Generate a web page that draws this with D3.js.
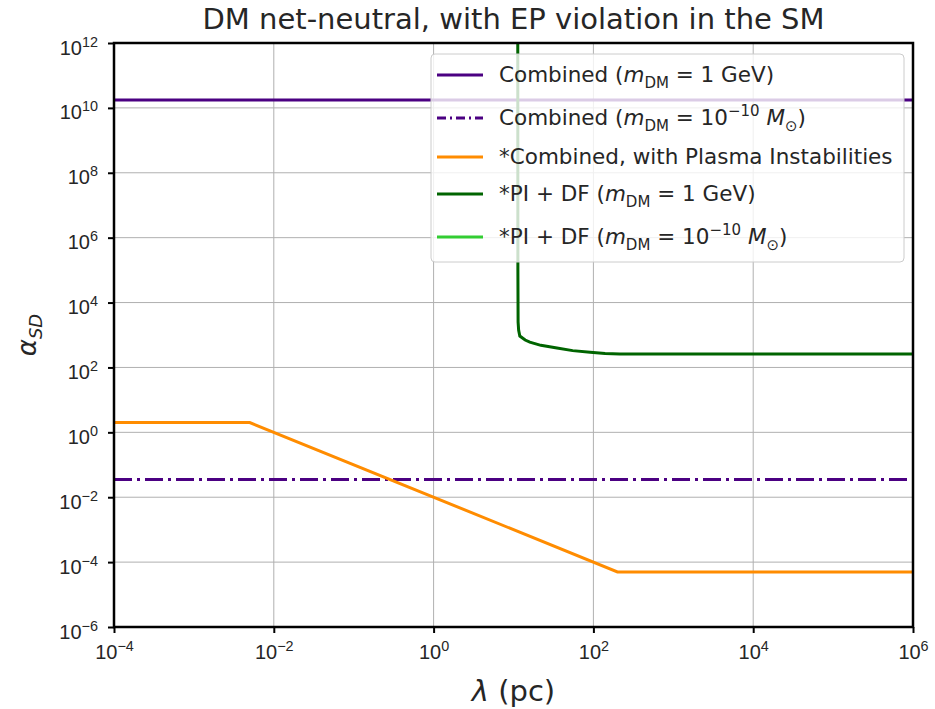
<!DOCTYPE html>
<html>
<head>
<meta charset="utf-8">
<script src="https://cdn.jsdelivr.net/npm/d3@7"></script>
<style>
  body { margin: 0; background: #fff; }
  svg { font-family: "DejaVu Sans", sans-serif; }
</style>
</head>
<body>
<div id="chart"></div>
<script>
//Datos
const xTicks = [1e-4, 1e-2, 1e0, 1e2, 1e4, 1e6];
const yTicks = [1e-6, 1e-4, 1e-2, 1e0, 1e2, 1e4, 1e6, 1e8, 1e10, 1e12];

const lambdaCombined = [1e-4, 1e6];
const alphaCombinedGeV = [1.75e10, 1.75e10];
const alphaCombinedMsun = [0.035, 0.035];

const lambdaPlasma = [1e-4, 5e-3, 200, 1e6];
const alphaPlasma = [2, 2, 5e-5, 5e-5];

const lambdaPIDF = [11.3, 11.35, 11.42, 11.6, 12, 14, 16, 22, 35, 55, 91, 140, 214, 1e6];
const alphaPIDF = [1e14, 1e5, 2500, 1400, 930, 700, 600, 480, 400, 330, 295, 270, 260, 260];

//Colores
const COLOR_INDIGO = '#4B0082',
COLOR_ORANGE = '#FF8C00',
COLOR_DKGREEN = '#006400',
COLOR_LIME = '#32CD32';

const W = 935, H = 709;
const margin = {top: 43, right: 22, bottom: 82, left: 114};

let svg = d3.select('#chart').append('svg')
    .attr('width', W)
    .attr('height', H);

let x = d3.scaleLog().domain([1e-4, 1e6]).range([margin.left, W - margin.right]);
let y = d3.scaleLog().domain([1e-6, 1e12]).range([H - margin.bottom, margin.top]);

//Rejilla
svg.append('g')
    .selectAll('line')
    .data(xTicks)
    .enter().append('line')
    .attr('x1', d => x(d)).attr('x2', d => x(d))
    .attr('y1', margin.top).attr('y2', H - margin.bottom)
    .attr('stroke', '#b0b0b0').attr('stroke-width', 1);

svg.append('g')
    .selectAll('line')
    .data(yTicks)
    .enter().append('line')
    .attr('y1', d => y(d)).attr('y2', d => y(d))
    .attr('x1', margin.left).attr('x2', W - margin.right)
    .attr('stroke', '#b0b0b0').attr('stroke-width', 1);

//Clip
svg.append('clipPath').attr('id', 'clip')
    .append('rect')
    .attr('x', margin.left).attr('y', margin.top)
    .attr('width', W - margin.left - margin.right)
    .attr('height', H - margin.top - margin.bottom);

let line = d3.line().x(d => x(d[0])).y(d => y(d[1]));
let plot = svg.append('g').attr('clip-path', 'url(#clip)');

function addSeries(xs, ys, color, dash) {
    plot.append('path')
        .datum(xs.map((v, i) => [v, ys[i]]))
        .attr('fill', 'none')
        .attr('stroke', color)
        .attr('stroke-width', 3)
        .attr('stroke-dasharray', dash || null)
        .attr('d', line);
}

addSeries(lambdaCombined, alphaCombinedGeV, COLOR_INDIGO);
addSeries(lambdaCombined, alphaCombinedMsun, COLOR_INDIGO, '18,5,3,5');
addSeries(lambdaPlasma, alphaPlasma, COLOR_ORANGE);
addSeries(lambdaPIDF, alphaPIDF, COLOR_DKGREEN);

//Ejes
function powLabel(sel, d) {
    let e = Math.round(Math.log10(d));
    sel.text(null);
    sel.append('tspan').text('10');
    sel.append('tspan').attr('dy', '-0.55em').attr('font-size', '0.72em').text(e < 0 ? '\u2212' + (-e) : e);
}

let xAxis = svg.append('g')
    .attr('transform', 'translate(0,' + (H - margin.bottom) + ')')
    .call(d3.axisBottom(x).tickValues(xTicks).tickSize(6).tickPadding(12));
xAxis.selectAll('.tick text').attr('font-size', 20).attr('fill', '#262626').each(function(d) { powLabel(d3.select(this), d); });

let yAxis = svg.append('g')
    .attr('transform', 'translate(' + margin.left + ',0)')
    .call(d3.axisLeft(y).tickValues(yTicks).tickSize(6).tickPadding(10));
yAxis.selectAll('.tick text').attr('font-size', 20).attr('fill', '#262626').attr('dy', '0.55em').each(function(d) { powLabel(d3.select(this), d); });

svg.selectAll('.domain').remove();
svg.selectAll('.tick line').attr('stroke', '#000').attr('stroke-width', 2);

//Marco
svg.append('rect')
    .attr('x', margin.left).attr('y', margin.top)
    .attr('width', W - margin.left - margin.right)
    .attr('height', H - margin.top - margin.bottom)
    .attr('fill', 'none').attr('stroke', '#000').attr('stroke-width', 2.5);

//Títulos
svg.append('text')
    .attr('x', (margin.left + W - margin.right) / 2).attr('y', 29)
    .attr('text-anchor', 'middle').attr('font-size', 29).attr('fill', '#262626')
    .text('DM net-neutral, with EP violation in the SM');

let xl = svg.append('text')
    .attr('x', (margin.left + W - margin.right) / 2).attr('y', 701)
    .attr('text-anchor', 'middle').attr('font-size', 29).attr('fill', '#262626');
xl.append('tspan').attr('font-style', 'italic').text('λ');
xl.append('tspan').text(' (pc)');

let yl = svg.append('text')
    .attr('transform', 'translate(36,' + ((margin.top + H - margin.bottom) / 2) + ') rotate(-90)')
    .attr('text-anchor', 'middle').attr('font-size', 26).attr('fill', '#262626');
yl.append('tspan').attr('font-style', 'italic').text('α');
yl.append('tspan').attr('font-style', 'italic').attr('font-size', 18).attr('dy', 6).text('SD');

//Leyenda
let legend = svg.append('g');
legend.append('rect')
    .attr('x', 431).attr('y', 54).attr('width', 473).attr('height', 208)
    .attr('rx', 4)
    .attr('fill', '#fff').attr('fill-opacity', 0.8)
    .attr('stroke', '#cccccc').attr('stroke-width', 1);

const legendRows = [
    {color: COLOR_INDIGO, dash: null, parts: [['Combined ('], ['m', 'i'], ['DM', 'sub'], [' = 1 GeV)']]},
    {color: COLOR_INDIGO, dash: '9,4,2,4', parts: [['Combined ('], ['m', 'i'], ['DM', 'sub'], [' = 10'], ['\u221210', 'sup'], [' '], ['M', 'i'], ['\u2299', 'sub'], [')']]},
    {color: COLOR_ORANGE, dash: null, parts: [['*Combined, with Plasma Instabilities']]},
    {color: COLOR_DKGREEN, dash: null, parts: [['*PI + DF ('], ['m', 'i'], ['DM', 'sub'], [' = 1 GeV)']]},
    {color: COLOR_LIME, dash: null, parts: [['*PI + DF ('], ['m', 'i'], ['DM', 'sub'], [' = 10'], ['\u221210', 'sup'], [' '], ['M', 'i'], ['\u2299', 'sub'], [')']]}
];
const rowY = [75, 118, 157, 194, 237];

legendRows.forEach(function(r, i) {
    let g = legend.append('g').attr('transform', 'translate(0,' + rowY[i] + ')');
    g.append('line')
        .attr('x1', 437).attr('x2', 483)
        .attr('stroke', r.color).attr('stroke-width', 3)
        .attr('stroke-dasharray', r.dash);
    let t = g.append('text').attr('x', 499).attr('y', 7).attr('font-size', 21.5).attr('fill', '#262626');
    let shift = 0;
    r.parts.forEach(function(p) {
        let ts = t.append('tspan').text(p[0]);
        let target = 0, fs = null;
        if (p[1] == 'i') ts.attr('font-style', 'italic');
        if (p[1] == 'sub') { target = 6; fs = 15; }
        if (p[1] == 'sup') { target = -9; fs = 15; }
        if (fs) ts.attr('font-size', fs);
        ts.attr('dy', target - shift);
        shift = target;
    });
});
</script>
</body>
</html>
